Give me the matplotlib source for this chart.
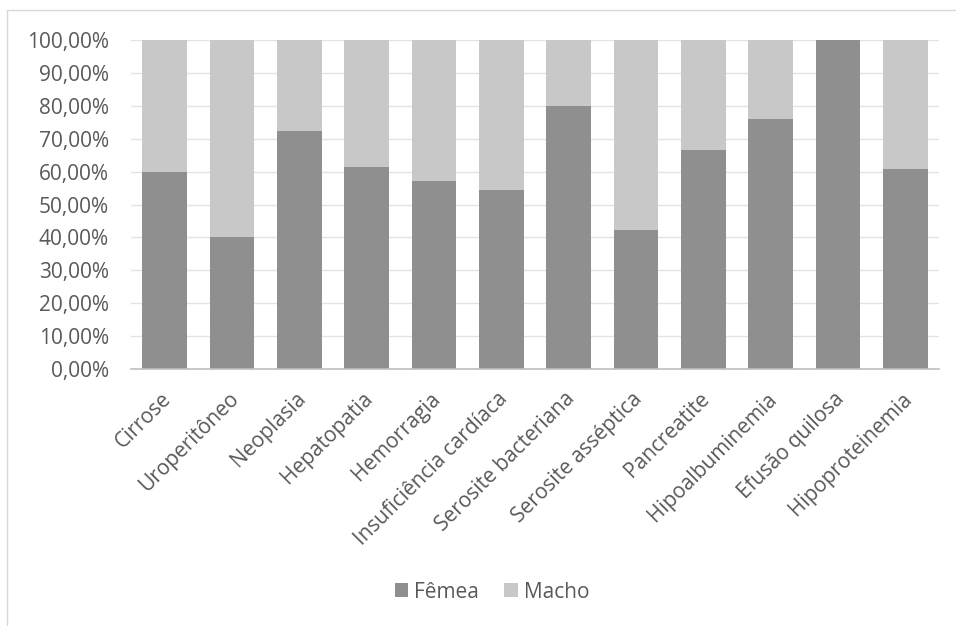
import matplotlib
matplotlib.use("Agg")
import matplotlib.pyplot as plt
import matplotlib.transforms as mtransforms
from matplotlib.patches import Rectangle
from matplotlib.ticker import FuncFormatter, MultipleLocator

categories = ["Cirrose", "Uroperitôneo", "Neoplasia", "Hepatopatia", "Hemorragia",
              "Insuficiência cardíaca", "Serosite bacteriana", "Serosite asséptica",
              "Pancreatite", "Hipoalbuminemia", "Efusão quilosa", "Hipoproteinemia"]
femea = [60.0, 40.0, 72.22, 61.54, 57.14, 54.55, 80.0, 42.11, 66.67, 75.86, 100.0, 60.87]
macho = [100 - v for v in femea]

DARK = "#8f8f8f"
LIGHT = "#c8c8c8"
TEXT = "#595959"
FS = 15

plt.rcParams["font.family"] = ["Open Sans", "DejaVu Sans"]

fig = plt.figure(figsize=(9.56, 6.26), dpi=100)
W, H = 956, 626

# outer chart frame
fig.patches.append(Rectangle((7 / W, -0.1), 1.2, (H - 10) / H + 0.1,
                             transform=fig.transFigure, fill=False,
                             edgecolor="#d9d9d9", linewidth=1.0))

ax = fig.add_axes([131 / W, 1 - 369 / H, (939 - 131) / W, (369 - 40) / H])
x = list(range(len(categories)))
ax.bar(x, femea, width=0.66, color=DARK, label="Fêmea", zorder=2)
ax.bar(x, macho, width=0.66, bottom=femea, color=LIGHT, label="Macho", zorder=2)

ax.set_xlim(-0.5, len(categories) - 0.5)
ax.set_ylim(0, 100)
ax.yaxis.set_major_locator(MultipleLocator(10))
ax.yaxis.set_major_formatter(FuncFormatter(lambda v, p: f"{v:.2f}%".replace(".", ",")))
ax.grid(axis="y", color="#e3e3e3", linewidth=1.0, zorder=0)
ax.set_axisbelow(True)
for s in ["top", "right", "left"]:
    ax.spines[s].set_visible(False)
ax.spines["bottom"].set_color("#bfbfbf")
ax.spines["bottom"].set_linewidth(1.2)
ax.tick_params(axis="both", length=0, colors=TEXT, labelsize=FS)
ax.tick_params(axis="y", pad=16)
ax.set_xticks(x)
ax.set_xticklabels(categories, rotation=45, ha="right", rotation_mode="anchor")
ax.tick_params(axis="x", pad=6)
shift = mtransforms.ScaledTranslation(-3 / 72, -8 / 72, fig.dpi_scale_trans)
for lbl in ax.get_xticklabels():
    lbl.set_transform(lbl.get_transform() + shift)

leg = fig.legend(loc="center", bbox_to_anchor=(492 / W, 1 - 592 / H), ncol=2,
                 frameon=False, fontsize=FS, handlelength=0.65, handleheight=0.65,
                 handletextpad=0.3, columnspacing=1.2)
for t in leg.get_texts():
    t.set_color(TEXT)

fig.savefig("out.png", dpi=100)
